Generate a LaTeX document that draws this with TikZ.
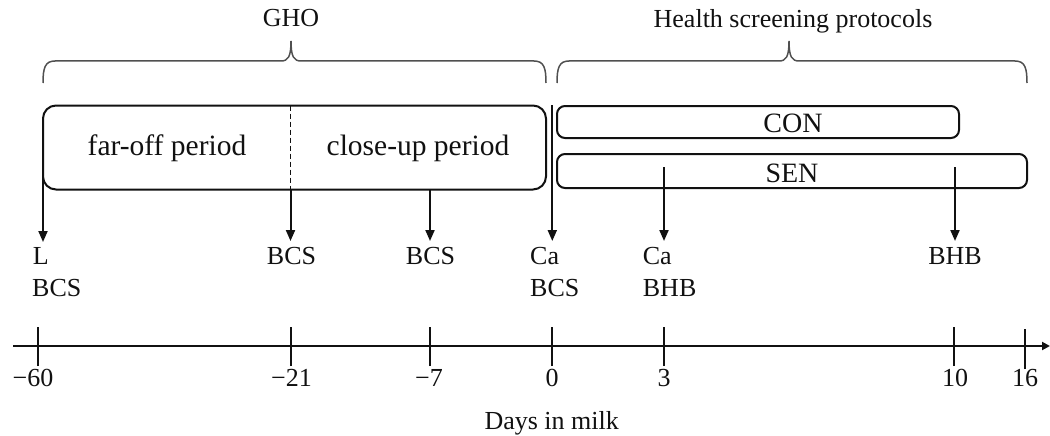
\documentclass[tikz,border=0pt]{standalone}
\usepackage{fontspec}
\setmainfont{Liberation Serif}
\usetikzlibrary{arrows.meta}
\definecolor{ink}{HTML}{111111}
\definecolor{bracegray}{HTML}{505050}
\begin{document}
\begin{tikzpicture}[x=1pt,y=-1pt,
  txt/.style={inner sep=0pt,anchor=base,text=ink,font=\fontsize{26}{30}\selectfont},
  lbl/.style={txt,anchor=base west},
  ptxt/.style={txt,font=\fontsize{29.5}{34}\selectfont},
  btxt/.style={txt,font=\fontsize{28}{32}\selectfont},
  pbox/.style={draw=ink,line width=2pt,inner sep=0pt,outer sep=0pt},
  arr/.style={draw=ink,line width=2pt,-{Triangle[length=11pt,width=9pt]}},
  tickline/.style={draw=ink,line width=2pt},
  axisline/.style={draw=ink,line width=2.4pt,-{Triangle[length=8pt,width=8pt]}},
  bracepath/.style={draw=bracegray,line width=1.5pt},
  dashline/.style={draw=ink,line width=1.8pt,dash pattern=on 5pt off 3pt}
]
\useasboundingbox (0,0) rectangle (1050,436);

% tick positions on the axis
\coordinate (t60) at (37.5,346);
\coordinate (t21) at (290.5,346);
\coordinate (t7)  at (429.5,346);
\coordinate (t0)  at (552.3,346);
\coordinate (t3)  at (664,346);
\coordinate (t10) at (954,346);
\coordinate (t16) at (1024.5,346);

% top labels and braces
\node[txt] (gho) at (291,27) {GHO};
\node[txt] (hsp) at (793,28) {Health screening protocols};
\draw[bracepath] (43,83) .. controls (43,68) and (45,61) .. (55,61) -- (281,61)
  .. controls (288,61) and (291,57) .. (291,41)
  .. controls (291,57) and (294,61) .. (301,61) -- (534,61)
  .. controls (544,61) and (546,68) .. (546,83);
\draw[bracepath] (557,83) .. controls (557,68) and (559,61) .. (569,61) -- (779,61)
  .. controls (786,61) and (789,57) .. (789,41)
  .. controls (789,57) and (792,61) .. (799,61) -- (1015,61)
  .. controls (1025,61) and (1027,68) .. (1027,83);

% boxes
\node[pbox,rounded corners=13pt,minimum width=503pt,minimum height=84pt] (ghobox) at (294.5,147.5) {};
\node[pbox,rounded corners=8pt,minimum width=402pt,minimum height=32pt] (conbox) at (758,122) {};
\node[pbox,rounded corners=8pt,minimum width=470pt,minimum height=34pt] (senbox) at (792,171) {};
\node[ptxt] (far) at (167,155) {far-off period};
\node[ptxt] (close) at (418,155) {close-up period};
\node[btxt] (con) at (793,132) {CON};
\node[btxt] (sen) at (792,182) {SEN};
\draw[dashline] (ghobox.north -| t21) -- (ghobox.south -| t21);

% arrow ends
\coordinate (e60) at (43,242);
\coordinate (e21) at (290.5,241);
\coordinate (e7)  at (430,241);
\coordinate (z0)  at (552.3,105);
\coordinate (e0)  at (552.3,241);
\coordinate (s3)  at (664,167);
\coordinate (e3)  at (664,241);
\coordinate (s10) at (955,167);
\coordinate (e10) at (955,241);

\draw[arr] (ghobox.west) -- (e60);
\draw[arr] (ghobox.south -| t21) -- (e21);
\draw[arr] (ghobox.south -| e7) -- (e7);
\draw[arr] (z0) -- (e0);
\draw[arr] (s3) -- (e3);
\draw[arr] (s10) -- (e10);

% sample labels
\node[lbl] (lL) at (32.7,264.5) {L};
\node[lbl] (lLb) at (32,296) {BCS};
\node[txt] (l21) at (291.5,264.5) {BCS};
\node[txt] (l7) at (430.5,264.5) {BCS};
\node[lbl] (l0a) at (530,264.5) {Ca};
\node[lbl] (l0b) at (530,296) {BCS};
\node[lbl] (l3a) at (642.7,264.5) {Ca};
\node[lbl] (l3b) at (642.7,296) {BHB};
\node[txt] (l10) at (955,264.5) {BHB};

% axis
\coordinate (axL) at (13,346);
\coordinate (axR) at (1050,346);
\draw[axisline] (axL) -- (axR);
\foreach \t in {t60,t21,t7,t0,t3,t10}{
  \draw[tickline] ([yshift=-20pt]\t) -- ([yshift=19pt]\t);
}
\draw[tickline] ([yshift=-23pt]t16) -- ([yshift=17pt]t16);

% tick labels
\node[txt] (n60) at (33,386.7) {−60};
\node[txt] (n21) at (291.5,386.7) {−21};
\node[txt] (n7)  at (429,386.7) {−7};
\node[txt] (n0)  at (552,386.7) {0};
\node[txt] (n3)  at (664,386.7) {3};
\node[txt] (n10) at (955,386.7) {10};
\node[txt] (n16) at (1025,386.7) {16};
\node[txt] (dim) at (551.7,429) {Days in milk};
\end{tikzpicture}
\end{document}
